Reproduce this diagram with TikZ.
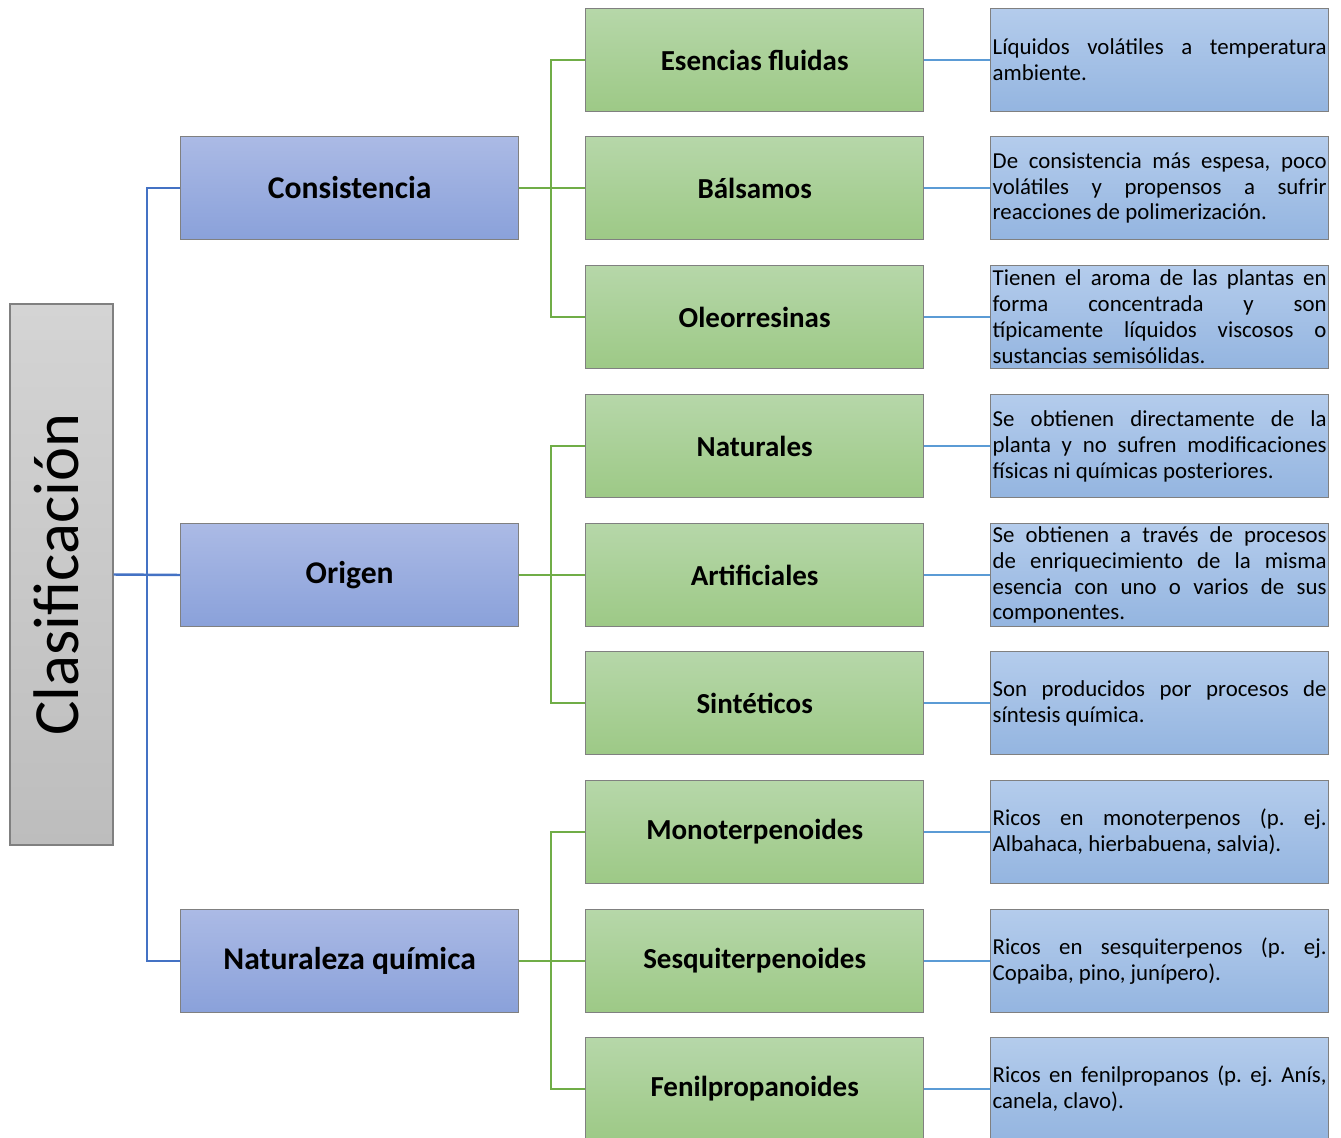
\documentclass[tikz,border=0pt]{standalone}
\usepackage{fontspec}
\setmainfont{Carlito}
\definecolor{grisA}{HTML}{D4D4D4}
\definecolor{grisB}{HTML}{BDBDBD}
\definecolor{azulA}{HTML}{ABBAE5}
\definecolor{azulB}{HTML}{8AA1DA}
\definecolor{verdeA}{HTML}{B6D7A9}
\definecolor{verdeB}{HTML}{9DC986}
\definecolor{celesteA}{HTML}{B4CCEC}
\definecolor{celesteB}{HTML}{94B5E0}
\definecolor{lineaAzul}{HTML}{4472C4}
\definecolor{lineaVerde}{HTML}{70AD47}
\definecolor{lineaCeleste}{HTML}{5B9BD5}
\definecolor{borde}{HTML}{808080}

\begin{document}
\begin{tikzpicture}[x=0.02cm,y=-0.02cm,
  caja/.style={draw=borde,line width=0.8pt,inner sep=0pt,anchor=west,
    minimum width=6.76cm,minimum height=2.06cm},
  nivel/.style={caja,top color=azulA,bottom color=azulB,
    font=\bfseries\fontsize{18pt}{22pt}\selectfont},
  tipo/.style={caja,top color=verdeA,bottom color=verdeB,
    font=\bfseries\fontsize{16.5pt}{20pt}\selectfont},
  desc/.style={caja,top color=celesteA,bottom color=celesteB,
    text width=6.68cm,inner xsep=0.04cm,align=justify,
    font=\fontsize{13pt}{14.75pt}\selectfont\frenchspacing},
  lazo/.style={line width=1.4pt}]
\useasboundingbox (0,0) rectangle (1341,1138);
% raiz
\node[draw=borde,line width=0.8pt,top color=grisA,bottom color=grisB,
  minimum width=2.06cm,minimum height=10.82cm,inner sep=0pt,
  font=\fontsize{36.7pt}{40pt}\selectfont] (clas) at (61.5,574.5)
  {\hspace*{-0.2cm}\rotatebox{90}{Clasificación}};
% primer nivel
\node[nivel] (cons) at (180,188) {Consistencia};
\node[nivel] (orig) at (180,575) {Origen};
\node[nivel] (natu) at (180,961) {Naturaleza química};
% segundo nivel
\node[tipo] (esen) at (585,60) {Esencias fluidas};
\node[tipo] (bals) at (585,188) {Bálsamos};
\node[tipo] (oleo) at (585,317) {Oleorresinas};
\node[tipo] (natr) at (585,446) {Naturales};
\node[tipo] (arti) at (585,575) {Artificiales};
\node[tipo] (sint) at (585,703) {Sintéticos};
\node[tipo] (mono) at (585,832) {Monoterpenoides};
\node[tipo] (sesq) at (585,961) {Sesquiterpenoides};
\node[tipo] (feni) at (585,1089) {Fenilpropanoides};
% descripciones
\node[desc] (dEsen) at (990,60) {Líquidos volátiles a temperatura\linebreak ambiente.};
\node[desc] (dBals) at (990,188) {De consistencia más espesa, poco\linebreak volátiles y propensos a sufrir\linebreak reacciones de polimerización.};
\node[desc] (dOleo) at (990,317) {Tienen el aroma de las plantas en\linebreak forma concentrada y son\linebreak típicamente líquidos viscosos o\linebreak sustancias semisólidas.};
\node[desc] (dNatr) at (990,446) {Se obtienen directamente de la\linebreak planta y no sufren modificaciones\linebreak físicas ni químicas posteriores.};
\node[desc] (dArti) at (990,575) {Se obtienen a través de procesos\linebreak de enriquecimiento de la misma\linebreak esencia con uno o varios de sus\linebreak componentes.};
\node[desc] (dSint) at (990,703) {Son producidos por procesos de\linebreak síntesis química.};
\node[desc] (dMono) at (990,832) {Ricos en monoterpenos (p. ej.\linebreak Albahaca, hierbabuena, salvia).};
\node[desc] (dSesq) at (990,961) {Ricos en sesquiterpenos (p. ej.\linebreak Copaiba, pino, junípero).};
\node[desc] (dFeni) at (990,1089) {Ricos en fenilpropanos (p. ej. Anís,\linebreak canela, clavo).};
% conectores raiz -> primer nivel
\coordinate (b0) at (147,575);
\draw[lazo,lineaAzul] (clas.east) -- (orig.west);
\draw[lazo,lineaAzul] (cons.west) -| (b0) |- (natu.west);
% conectores primer -> segundo nivel
\coordinate (b1) at (551,188);
\coordinate (b2) at (551,575);
\coordinate (b3) at (551,961);
\draw[lazo,lineaVerde] (cons.east) -- (bals.west);
\draw[lazo,lineaVerde] (esen.west) -| (b1) |- (oleo.west);
\draw[lazo,lineaVerde] (orig.east) -- (arti.west);
\draw[lazo,lineaVerde] (natr.west) -| (b2) |- (sint.west);
\draw[lazo,lineaVerde] (natu.east) -- (sesq.west);
\draw[lazo,lineaVerde] (mono.west) -| (b3) |- (feni.west);
% conectores segundo nivel -> descripciones
\draw[lazo,line width=1.2pt,lineaCeleste] (esen.east) -- (dEsen.west);
\draw[lazo,line width=1.2pt,lineaCeleste] (bals.east) -- (dBals.west);
\draw[lazo,line width=1.2pt,lineaCeleste] (oleo.east) -- (dOleo.west);
\draw[lazo,line width=1.2pt,lineaCeleste] (natr.east) -- (dNatr.west);
\draw[lazo,line width=1.2pt,lineaCeleste] (arti.east) -- (dArti.west);
\draw[lazo,line width=1.2pt,lineaCeleste] (sint.east) -- (dSint.west);
\draw[lazo,line width=1.2pt,lineaCeleste] (mono.east) -- (dMono.west);
\draw[lazo,line width=1.2pt,lineaCeleste] (sesq.east) -- (dSesq.west);
\draw[lazo,line width=1.2pt,lineaCeleste] (feni.east) -- (dFeni.west);
\end{tikzpicture}
\end{document}
